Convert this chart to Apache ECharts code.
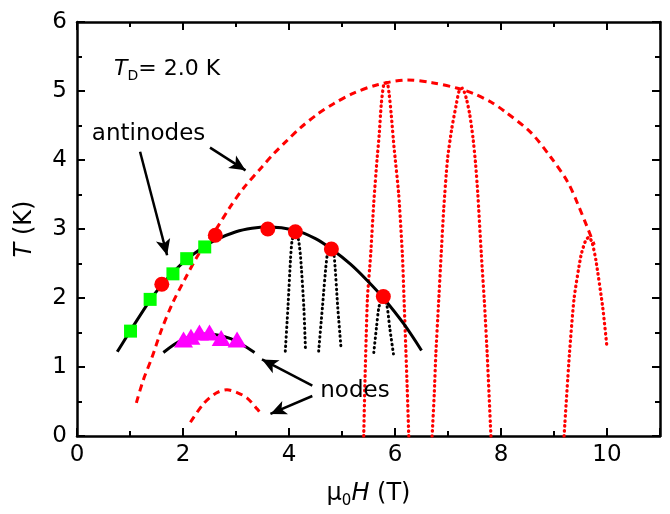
<!DOCTYPE html>
<html>
<head>
<meta charset="utf-8">
<script src="https://cdn.jsdelivr.net/npm/echarts@6/dist/echarts.min.js"></script>
<style>html,body{margin:0;padding:0;background:#fff}#c{width:670px;height:514px}</style>
</head>
<body>
<div id="c"></div>
<script>
// ---- data ----
const xTicks = [0, 2, 4, 6, 8, 10];
const yTicks = [0, 1, 2, 3, 4, 5, 6];
const greenSquares = [[1.01,1.52],[1.38,1.98],[1.81,2.35],[2.07,2.57],[2.41,2.74]];
const redCircles = [[1.60,2.20],[2.61,2.91],[3.60,3.00],[4.12,2.96],[4.80,2.71],[5.78,2.02]];
const magentaTriangles = [[2.01,1.40],[2.15,1.44],[2.31,1.50],[2.50,1.50],[2.72,1.42],[3.02,1.40]];
const antinodeFit = [[0.76,1.22],[1.01,1.53],[1.38,1.97],[1.60,2.19],[1.81,2.37],[2.07,2.56],[2.41,2.75],[2.61,2.84],[3.0,2.96],[3.3,3.01],[3.6,3.03],[4.12,2.98],[4.5,2.86],[4.8,2.71],[5.16,2.49],[5.48,2.25],[5.78,2.0],[6.17,1.62],[6.5,1.24]];
const nodeFit = [[1.63,1.21],[2.0,1.40],[2.45,1.48],[2.9,1.41],[3.35,1.21]];
const antinodeModel = [[1.12,0.48],[1.25,0.81],[1.41,1.13],[1.60,1.55],[1.80,1.92],[2.04,2.28],[2.33,2.68],[2.61,2.98],[2.89,3.32],[3.14,3.59],[3.49,3.90],[3.71,4.09],[3.96,4.28],[4.22,4.47],[4.53,4.66],[4.85,4.82],[5.22,4.97],[5.67,5.09],[6.23,5.16],[6.7,5.12],[7.18,5.04],[7.49,4.96],[7.81,4.84],[8.06,4.71],[8.56,4.40],[8.94,4.04],[9.26,3.68],[9.45,3.36],[9.62,3.04],[9.76,2.77]];
const nodeModel = [[2.14,0.20],[2.39,0.47],[2.62,0.62],[2.83,0.67],[3.02,0.63],[3.21,0.55],[3.40,0.39],[3.49,0.30]];
const redSpike1 = [[5.41,0.0],[5.43,0.70],[5.48,2.0],[5.54,2.62],[5.60,3.39],[5.66,4.0],[5.70,4.35],[5.74,4.80],[5.79,5.10],[5.85,5.12],[5.89,4.95],[5.93,4.65],[5.98,4.2],[6.07,3.5],[6.14,2.62],[6.17,2.0],[6.23,0.70],[6.26,0.0]];
const redSpike2 = [[6.70,0.0],[6.74,0.6],[6.77,1.18],[6.82,1.9],[6.87,2.62],[6.92,3.3],[6.99,4.01],[7.07,4.45],[7.15,4.78],[7.21,5.0],[7.27,5.04],[7.31,4.98],[7.35,4.88],[7.41,4.66],[7.47,4.33],[7.52,3.95],[7.56,3.54],[7.63,2.62],[7.69,1.9],[7.74,1.18],[7.81,0.0]];
const redSpike3 = [[9.19,0.0],[9.29,1.18],[9.38,2.0],[9.51,2.62],[9.60,2.84],[9.66,2.88],[9.72,2.80],[9.79,2.55],[9.92,1.86],[10.0,1.28]];
const blackSpikeA = [[3.93,1.23],[3.98,1.86],[4.03,2.58],[4.06,2.84],[4.12,2.95],[4.18,2.84],[4.22,2.58],[4.28,1.86],[4.31,1.26]];
const blackSpikeB = [[4.56,1.23],[4.63,1.86],[4.72,2.62],[4.79,2.72],[4.85,2.62],[4.92,1.86],[4.98,1.29]];
const blackSpikeC = [[5.60,1.21],[5.65,1.57],[5.70,1.88],[5.78,2.0],[5.85,1.88],[5.90,1.57],[5.97,1.19]];
const arrowSegments = [
  [[1.19,4.12],[1.70,2.62]],
  [[2.51,4.18],[3.18,3.85]],
  [[4.44,0.73],[3.49,1.11]],
  [[4.44,0.58],[3.65,0.32]]
];
const labelTexts = ['antinodes', 'nodes'];
// ---- layout ----
const labelAnchors = [[0.28,4.37],[4.59,0.65]];
const tdAnchor = [0.70,5.31];

const FONT = 'DejaVu Sans';
const chart = echarts.init(document.getElementById('c'), null, {renderer:'canvas'});

function xAx(pos, interval, len, showLine, showLabel) {
  return {
    type:'value', position:pos, min:0, max:11, interval:interval,
    axisLine:{show:showLine, onZero:false, lineStyle:{color:'#000', width:2.5}},
    axisTick:{show:true, inside:true, length:len, lineStyle:{color:'#000', width:2}},
    axisLabel:{show:showLabel, color:'#000', fontSize:23, fontFamily:FONT, margin:8,
      formatter: v => xTicks.indexOf(v) >= 0 ? String(v) : ''},
    splitLine:{show:false}
  };
}
function yAx(pos, showLabel) {
  return {
    type:'value', position:pos, min:0, max:6, interval:1,
    axisLine:{show:true, onZero:false, lineStyle:{color:'#000', width:2.5}},
    axisTick:{show:true, inside:true, length:8, lineStyle:{color:'#000', width:2}},
    minorTick:{show:true, splitNumber:2, length:5, lineStyle:{color:'#000', width:2}},
    axisLabel:{show:showLabel, color:'#000', fontSize:23, fontFamily:FONT, margin:10,
      formatter: v => yTicks.indexOf(v) >= 0 ? String(v) : ''},
    splitLine:{show:false}
  };
}

const xMain = xAx('bottom', 2, 8, true, true);
xMain.name = '{n|μ}{s|0}{i|H}{n| (T)}';
xMain.nameLocation = 'middle';
xMain.nameGap = 43;
xMain.nameTextStyle = {color:'#000', fontFamily:FONT, fontSize:24, rich:{
  n:{fontSize:24, fontFamily:FONT, color:'#000', lineHeight:30},
  i:{fontSize:24, fontFamily:FONT, color:'#000', fontStyle:'italic', lineHeight:30},
  s:{fontSize:15, fontFamily:FONT, color:'#000', verticalAlign:'bottom', lineHeight:15}
}};
const yMain = yAx('left', true);
yMain.name = '{i|T}{n| (K)}';
yMain.nameLocation = 'middle';
yMain.nameGap = 40;
yMain.nameTextStyle = {color:'#000', fontFamily:FONT, fontSize:24, rich:{
  n:{fontSize:24, fontFamily:FONT, color:'#000'},
  i:{fontSize:24, fontFamily:FONT, color:'#000', fontStyle:'italic'}
}};

function lineSeries(data, color, type, width, cap, smooth, z) {
  return {type:'line', data:data, xAxisIndex:0, yAxisIndex:0, symbol:'none', smooth:smooth,
    lineStyle:{color:color, width:width, type:type, cap:cap}, z:z, silent:true};
}
const dotRed = [0.5, 4.5];
const dotBlack = [0.5, 4.2];

function scatter(data, symbol, size, color) {
  return {type:'scatter', data:data, symbol:symbol, symbolSize:size, z:5, silent:true,
    itemStyle:{color:color, opacity:1}};
}

const series = [
  lineSeries(antinodeModel, '#ff0000', [7,5], 3, 'butt', 0.3, 2),
  lineSeries(nodeModel, '#ff0000', [7,5], 3, 'butt', 0.3, 2),
  lineSeries(redSpike1, '#ff0000', dotRed, 3.3, 'round', 0.2, 2),
  lineSeries(redSpike2, '#ff0000', dotRed, 3.3, 'round', 0.2, 2),
  lineSeries(redSpike3, '#ff0000', dotRed, 3.3, 'round', 0.2, 2),
  lineSeries(blackSpikeA, '#000', dotBlack, 3, 'round', 0.2, 2),
  lineSeries(blackSpikeB, '#000', dotBlack, 3, 'round', 0.2, 2),
  lineSeries(blackSpikeC, '#000', dotBlack, 3, 'round', 0.2, 2),
  lineSeries(antinodeFit, '#000', 'solid', 3, 'butt', 0.3, 3),
  lineSeries(nodeFit, '#000', 'solid', 3, 'butt', 0.3, 3),
  scatter(greenSquares, 'rect', 13, '#00ff00'),
  scatter(redCircles, 'circle', 15, '#ff0000'),
  scatter(magentaTriangles, 'triangle', [19,16], '#ff00ff'),
  {type:'line', data:[], xAxisIndex:0, yAxisIndex:0, z:6,
    markLine:{silent:true, animation:false, symbol:['none','arrow'], symbolSize:[11,16],
      label:{show:false}, lineStyle:{color:'#000', width:2.5, type:'solid'},
      data: arrowSegments.map(s => [{coord:s[0]},{coord:s[1]}])}}
];

chart.setOption({
  animation:false,
  backgroundColor:'#fff',
  grid:{left:77, right:10, top:22, bottom:75},
  xAxis:[xMain, xAx('bottom',1,5,false,false), xAx('top',2,8,true,false), xAx('top',1,5,false,false)],
  yAxis:[yMain, yAx('right', false)],
  series:series
});

const gtexts = labelTexts.map((t,i) => {
  const p = chart.convertToPixel({gridIndex:0}, labelAnchors[i]);
  return {type:'text', x:p[0], y:p[1], z:10, style:{text:t, fill:'#000', font:'23px "DejaVu Sans"', textAlign:'left', textVerticalAlign:'middle'}};
});
const tp = chart.convertToPixel({gridIndex:0}, tdAnchor);
gtexts.push({type:'text', x:tp[0], y:tp[1], z:10, style:{
  text:'{i|T}{s|D}{n|= 2.0 K}', textAlign:'left', textVerticalAlign:'middle',
  rich:{
    i:{fontSize:22, fontFamily:FONT, fontStyle:'italic', fill:'#000', lineHeight:28},
    s:{fontSize:14, fontFamily:FONT, fill:'#000', verticalAlign:'bottom', lineHeight:14},
    n:{fontSize:22, fontFamily:FONT, fill:'#000', lineHeight:28}
  }}});
chart.setOption({graphic:gtexts});
</script>
</body>
</html>
